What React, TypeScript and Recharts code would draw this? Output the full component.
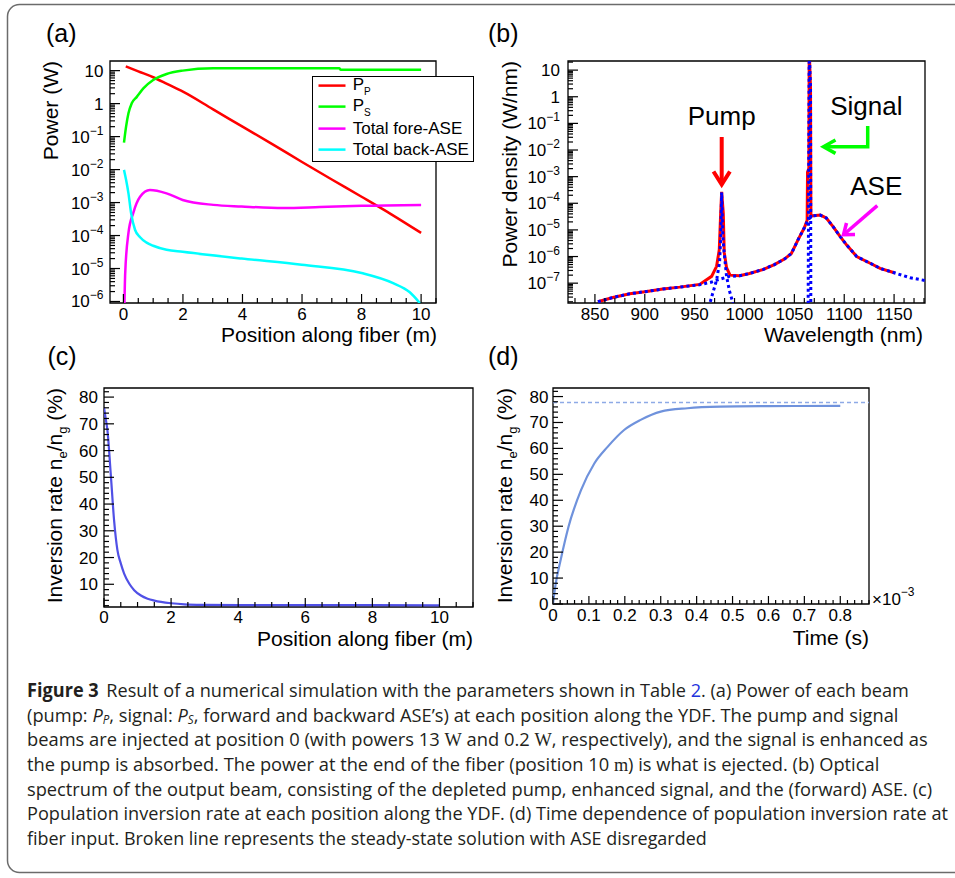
import React from "react";
import { LineChart, Line, XAxis, YAxis, ReferenceArea, ReferenceLine, Legend, Label } from "recharts";

// ---- (a) power of each beam along the fibre (m -> W)
const pumpPos = [0.08, 0.5, 1, 1.5, 2, 3, 4, 5, 6, 7, 8, 9, 10];
const pumpPower = [13.5, 9.5, 6.3, 3.8, 2.3, 0.68, 0.2, 0.059, 0.017, 0.005, 0.0015, 0.00044, 0.00012];
const signalPos = [0.02, 0.09, 0.17, 0.28, 0.45, 0.67, 1.0, 1.45, 1.99, 3.02, 7.25, 7.3, 10];
const signalPower = [0.066, 0.2, 0.51, 1.02, 1.6, 2.9, 5.2, 7.9, 10, 11.8, 11.8, 10.6, 10.6];
const foreAsePos = [0.03, 0.06, 0.17, 0.33, 0.56, 0.89, 1.45, 1.99, 3.02, 3.97, 5.37, 6.6, 8.0, 10];
const foreAsePower = [5e-7, 7e-6, 1.2e-4, 4.8e-4, 1.5e-3, 2.4e-3, 1.9e-3, 1.2e-3, 8.5e-4, 7.6e-4, 6.8e-4, 7.3e-4, 8.0e-4, 8.5e-4];
const backAsePos = [0.02, 0.09, 0.17, 0.26, 0.39, 0.56, 0.78, 1.0, 1.45, 1.99, 3.97, 5.99, 8.0, 9.06, 9.62, 10];
const backAsePower = [9.8e-3, 4.9e-3, 1.9e-3, 4.7e-4, 1.5e-4, 8.9e-5, 6.1e-5, 4.9e-5, 3.7e-5, 3.2e-5, 2.0e-5, 1.3e-5, 7.3e-6, 3.6e-6, 1.9e-6, 8e-7];
const powerNames = ["P_P", "P_S", "Total fore-ASE", "Total back-ASE"];

// ---- (b) output spectrum (nm -> W/nm)
const totalWl = [853, 868, 885, 902, 918, 935, 955, 967, 972, 974.7, 976.1, 977.1, 978.7, 979.7, 982, 985.5, 995, 1005, 1019, 1030, 1040, 1047, 1054, 1060, 1062.8, 1063.2, 1064.5, 1064.9, 1066.2, 1066.6, 1069, 1076, 1082, 1089, 1096, 1102.5, 1112.5, 1126, 1136, 1151];
const totalDensity = [2e-8, 2.9e-8, 4e-8, 4.9e-8, 6e-8, 7.1e-8, 9e-8, 1.8e-7, 4.3e-7, 1.8e-6, 4.3e-5, 2.7e-4, 4.3e-5, 1.4e-6, 3.8e-7, 2e-7, 1.9e-7, 2.3e-7, 3.3e-7, 5e-7, 8e-7, 1.3e-6, 4.5e-6, 1.2e-5, 2.3e-5, 1.5e-3, 2e-3, 60, 2.2, 3.3e-5, 3.4e-5, 3.6e-5, 2.8e-5, 1.3e-5, 5.6e-6, 2.7e-6, 1e-6, 5.6e-7, 3.6e-7, 2.4e-7];
const aseWl = [853, 868, 885, 902, 918, 935, 955, 967, 975, 985, 995, 1005, 1019, 1030, 1040, 1047, 1054, 1060, 1064, 1069, 1076, 1082, 1089, 1096, 1102.5, 1112.5, 1126, 1136, 1151, 1166, 1181];
const aseDensity = [2e-8, 2.9e-8, 4e-8, 4.9e-8, 6e-8, 7.1e-8, 8.7e-8, 1.1e-7, 1.4e-7, 1.8e-7, 1.9e-7, 2.3e-7, 3.3e-7, 5e-7, 8e-7, 1.3e-6, 4.5e-6, 1.2e-5, 2.5e-5, 3.4e-5, 3.6e-5, 2.8e-5, 1.3e-5, 5.6e-6, 2.7e-6, 1e-6, 5.6e-7, 3.6e-7, 2.4e-7, 1.6e-7, 1.26e-7];
const pumpWl = [964, 968, 972, 975, 976.2, 977.1, 978.2, 979.5, 982, 985, 989];
const pumpDensity = [1.2e-8, 4e-8, 1.3e-7, 6e-7, 6e-6, 2.6e-4, 6e-6, 1.5e-6, 1.8e-7, 5e-8, 1.5e-8];
const signalWl = [1063.8, 1064.9, 1066.2, 1066.5];
const signalDensity = [1e-8, 60, 2.2, 1e-8];

// ---- (c) inversion along the fibre (m -> %)
const fiberPos = [0, 0.05, 0.1, 0.2, 0.3, 0.4, 0.5, 0.6, 0.75, 0.9, 1.1, 1.3, 1.5, 1.7, 2.0, 2.4, 3, 4, 6, 8, 10];
const inversionAlongFiber = [76, 72, 67.8, 51.5, 34, 22.8, 17.8, 14, 10.3, 7.8, 5.8, 4.6, 3.9, 3.4, 2.9, 2.5, 2.3, 2.2, 2.2, 2.2, 2.1];

// ---- (d) inversion at fibre input vs time (x1e-3 s -> %)
const timeMs = [0, 0.006, 0.023, 0.043, 0.078, 0.115, 0.152, 0.198, 0.244, 0.3, 0.374, 0.466, 0.6, 0.8];
const inversionVsTime = [0, 6.5, 18, 29.7, 43.9, 54.2, 60.6, 67.1, 71, 74.2, 75.5, 76.1, 76.3, 76.4];
const steadyInversion = 77.7;

// major tick labels
const aXMajor = [0, 2, 4, 6, 8, 10];
const aYMajor = [1e-6, 1e-5, 1e-4, 1e-3, 1e-2, 1e-1, 1, 10];
const bXMajor = [850, 900, 950, 1000, 1050, 1100, 1150];
const bYMajor = [1e-7, 1e-6, 1e-5, 1e-4, 1e-3, 1e-2, 1e-1, 1, 10];
const cXMajor = [0, 2, 4, 6, 8, 10];
const cYMajor = [10, 20, 30, 40, 50, 60, 70, 80];
const dXMajor = [0, 0.1, 0.2, 0.3, 0.4, 0.5, 0.6, 0.7, 0.8];
const dYMajor = [0, 10, 20, 30, 40, 50, 60, 70, 80];

const FONT = "'Liberation Sans', Arial, Helvetica, sans-serif";
const CAPFONT = "'Open Sans', 'Noto Sans', sans-serif";
const SERIF = "'Liberation Serif', 'DejaVu Serif', serif";

type Rect = { L: number; T: number; R: number; B: number };
const PA: Rect = { L: 110, T: 61, R: 436, B: 303 };
const PB: Rect = { L: 568, T: 61, R: 925, B: 303 };
const PC: Rect = { L: 104, T: 388, R: 473, B: 607 };
const PD: Rect = { L: 553, T: 388, R: 869, B: 604 };

const aXDomain: [number, number] = [-0.45, 10.5];
const aYDomain: [number, number] = [0.9e-6, 19.6];
const bXDomain: [number, number] = [823, 1181];
const bYDomain: [number, number] = [1.8e-8, 22];
const cXDomain: [number, number] = [0, 11];
const cYDomain: [number, number] = [1.5, 83.4];
const dXDomain: [number, number] = [0, 0.88];
const dYDomain: [number, number] = [0, 83.3];

const PAD = { left: 80, top: 30, right: 70, bottom: 50 };
const Y_W = 70;
const X_H = 40;
const margin = { top: PAD.top, right: PAD.right, bottom: PAD.bottom - X_H, left: PAD.left - Y_W };

function box(p: Rect) {
  return {
    left: p.L - PAD.left,
    top: p.T - PAD.top,
    width: p.R - p.L + PAD.left + PAD.right,
    height: p.B - p.T + PAD.top + PAD.bottom,
  };
}

const pts = (xs: number[], ys: number[]) => xs.map((x, i) => ({ x, y: ys[i] }));

const steps = (a: number, b: number, step: number) => {
  const out: number[] = [];
  for (let i = 0; a + i * step <= b + step * 1e-6; i++) out.push(+(a + i * step).toFixed(6));
  return out;
};
const logSteps = (lo: number, hi: number, dom: [number, number]) => {
  const out: number[] = [];
  for (let e = lo; e <= hi; e++)
    for (let k = 1; k <= 9; k++) {
      const v = +(k * Math.pow(10, e)).toPrecision(6);
      if (v >= dom[0] && v <= dom[1]) out.push(v);
    }
  return out;
};

const isIn = (list: number[], v: number) => list.some((m) => Math.abs(m - v) <= Math.abs(m) * 1e-6 + 1e-9);

const logFmt = (v: number): React.ReactNode => {
  const e = Math.round(Math.log10(v));
  if (e === 1) return "10";
  if (e === 0) return "1";
  return (
    <>
      <tspan>10</tspan>
      <tspan dy={-8} fontSize={12}>{"\u2212" + Math.abs(e)}</tspan>
    </>
  );
};

type TickCfg = { side: "left" | "bottom"; majors: number[]; fmt: (v: number) => React.ReactNode; majorLen: number; minorLen: number; gap: number };

function axisTick(cfg: TickCfg) {
  return function Tick(props: any) {
    const { x, y, payload } = props;
    const v = Number(payload.value);
    const major = isIn(cfg.majors, v);
    const len = major ? cfg.majorLen : cfg.minorLen;
    if (cfg.side === "left") {
      return (
        <g>
          <line x1={x} y1={y} x2={x + len} y2={y} stroke="#000" strokeWidth={1.2} />
          {major && (
            <text x={x - cfg.gap} y={y + 6} textAnchor="end" fontSize={17} fontFamily={FONT} fill="#000">
              {cfg.fmt(v)}
            </text>
          )}
        </g>
      );
    }
    return (
      <g>
        <line x1={x} y1={y} x2={x} y2={y - len} stroke="#000" strokeWidth={1.2} />
        {major && (
          <text x={x} y={y + cfg.gap} textAnchor="middle" fontSize={17} fontFamily={FONT} fill="#000">
            {cfg.fmt(v)}
          </text>
        )}
      </g>
    );
  };
}

const yTitle = (content: React.ReactNode, fromPlot: number) => (props: any) => {
  const vb = props.viewBox || {};
  const x = vb.x + vb.width - fromPlot;
  const y = vb.y;
  return (
    <text x={x} y={y} transform={`rotate(-90 ${x} ${y})`} textAnchor="end" fontSize={21} fontFamily={FONT} fill="#000">
      {content}
    </text>
  );
};

const xTitle = (content: React.ReactNode, dxEnd: number, below: number) => (props: any) => {
  const vb = props.viewBox || {};
  return (
    <text x={vb.x + vb.width + dxEnd} y={vb.y + below} textAnchor="end" fontSize={21} fontFamily={FONT} fill="#000">
      {content}
    </text>
  );
};

const inversionTitle = (
  <>
    <tspan>Inversion rate n</tspan>
    <tspan fontSize={13} dy={5}>e</tspan>
    <tspan dy={-5}>/n</tspan>
    <tspan fontSize={13} dy={5}>g</tspan>
    <tspan dy={-5}> (%)</tspan>
  </>
);

const frame = (xd: [number, number], yd: [number, number]) => (
  <ReferenceArea x1={xd[0]} x2={xd[1]} y1={yd[0]} y2={yd[1]} fill="none" stroke="#000" strokeWidth={1.3} ifOverflow="visible" />
);

function PowerLegend(props: any) {
  const items = [...(props.payload || [])].sort(
    (a: any, b: any) => powerNames.indexOf(String(a.value)) - powerNames.indexOf(String(b.value))
  );
  return (
    <div style={{ position: "relative", width: 162, height: 86, border: "1.3px solid #000", background: "#fff", boxSizing: "border-box", fontFamily: FONT, fontSize: 17, color: "#000" }}>
      {items.map((it: any, i: number) => {
        const [main, sub] = String(it.value).split("_");
        return (
          <div key={String(it.value)} style={{ position: "absolute", left: 0, top: -1.5 + i * 21.2, height: 21.2, display: "flex", alignItems: "center" }}>
            <svg width={40} height={21} style={{ flex: "none" }}>
              <line x1={5.5} x2={32.5} y1={10.6} y2={10.6} stroke={it.color} strokeWidth={2.5} />
            </svg>
            <span style={{ whiteSpace: "nowrap", lineHeight: "17px" }}>
              {main}
              {sub && <span style={{ fontSize: 10, position: "relative", top: 5 }}>{sub}</span>}
            </span>
          </div>
        );
      })}
    </div>
  );
}

function PowerPanel() {
  const b = box(PA);
  const colors = ["#ff0000", "#00ff00", "#ff00ff", "#00ffff"];
  const series = [pts(pumpPos, pumpPower), pts(signalPos, signalPower), pts(foreAsePos, foreAsePower), pts(backAsePos, backAsePower)];
  return (
    <div style={{ position: "absolute", left: b.left, top: b.top }}>
      <LineChart width={b.width} height={b.height} margin={margin}>
        <XAxis type="number" dataKey="x" domain={aXDomain} allowDataOverflow ticks={steps(0, 10.5, 0.5)} interval={0} height={X_H} tickSize={0} tickMargin={0} axisLine={false} tickLine={false}
          tick={axisTick({ side: "bottom", majors: aXMajor, fmt: (v) => String(v), majorLen: 9, minorLen: 5, gap: 16.5 })}>
          <Label content={xTitle("Position along fiber (m)", 1, 39)} />
        </XAxis>
        <YAxis type="number" scale="log" domain={aYDomain} allowDataOverflow ticks={logSteps(-6, 1, aYDomain)} interval={0} width={Y_W} tickSize={0} tickMargin={0} axisLine={false} tickLine={false}
          tick={axisTick({ side: "left", majors: aYMajor, fmt: logFmt, majorLen: 10, minorLen: 5, gap: 6.5 })}>
          <Label content={yTitle("Power (W)", 51.6)} />
        </YAxis>
        {frame(aXDomain, aYDomain)}
        {series.map((d, i) => (
          <Line key={powerNames[i]} data={d} dataKey="y" name={powerNames[i]} type="monotone" stroke={colors[i]} strokeWidth={2.5} dot={false} isAnimationActive={false} />
        ))}
        <Legend content={PowerLegend} layout="vertical" align="center" verticalAlign="middle" wrapperStyle={{ left: 311.7 - b.left, top: 75.7 - b.top, width: 162, height: 86 }} />
      </LineChart>
    </div>
  );
}

function SpectrumPanel() {
  const b = box(PB);
  return (
    <div style={{ position: "absolute", left: b.left, top: b.top }}>
      <LineChart width={b.width} height={b.height} margin={margin}>
        <XAxis type="number" dataKey="x" domain={bXDomain} allowDataOverflow ticks={steps(830, 1180, 10)} interval={0} height={X_H} tickSize={0} tickMargin={0} axisLine={false} tickLine={false}
          tick={axisTick({ side: "bottom", majors: bXMajor, fmt: (v) => String(v), majorLen: 9, minorLen: 5, gap: 16.5 })}>
          <Label content={xTitle("Wavelength (nm)", -2, 39)} />
        </XAxis>
        <YAxis type="number" scale="log" domain={bYDomain} allowDataOverflow ticks={logSteps(-8, 1, bYDomain)} interval={0} width={Y_W} tickSize={0} tickMargin={0} axisLine={false} tickLine={false}
          tick={axisTick({ side: "left", majors: bYMajor, fmt: logFmt, majorLen: 10, minorLen: 5, gap: 8 })}>
          <Label content={yTitle("Power density (W/nm)", 51.2)} />
        </YAxis>
        {frame(bXDomain, bYDomain)}
        <Line data={pts(totalWl, totalDensity)} dataKey="y" name="total" type="linear" stroke="#ff0000" strokeWidth={3} dot={false} isAnimationActive={false} />
        <Line data={pts(aseWl, aseDensity)} dataKey="y" name="ASE" type="linear" stroke="#0000ff" strokeWidth={3} strokeDasharray="3 3" dot={false} isAnimationActive={false} />
        <Line data={pts(pumpWl, pumpDensity)} dataKey="y" name="pump" type="linear" stroke="#0000ff" strokeWidth={3} strokeDasharray="3 3" dot={false} isAnimationActive={false} />
        <Line data={pts(signalWl, signalDensity)} dataKey="y" name="signal" type="linear" stroke="#0000ff" strokeWidth={3} strokeDasharray="3 3" dot={false} isAnimationActive={false} />
      </LineChart>
    </div>
  );
}

function FiberInversionPanel() {
  const b = box(PC);
  return (
    <div style={{ position: "absolute", left: b.left, top: b.top }}>
      <LineChart width={b.width} height={b.height} margin={margin}>
        <XAxis type="number" dataKey="x" domain={cXDomain} allowDataOverflow ticks={steps(0, 11, 0.5)} interval={0} height={X_H} tickSize={0} tickMargin={0} axisLine={false} tickLine={false}
          tick={axisTick({ side: "bottom", majors: cXMajor, fmt: (v) => String(v), majorLen: 9, minorLen: 5, gap: 15.5 })}>
          <Label content={xTitle("Position along fiber (m)", 0, 38.5)} />
        </XAxis>
        <YAxis type="number" domain={cYDomain} allowDataOverflow ticks={steps(2, 82, 2)} interval={0} width={Y_W} tickSize={0} tickMargin={0} axisLine={false} tickLine={false}
          tick={axisTick({ side: "left", majors: cYMajor, fmt: (v) => String(v), majorLen: 10, minorLen: 5, gap: 6 })}>
          <Label content={yTitle(inversionTitle, 42)} />
        </YAxis>
        {frame(cXDomain, cYDomain)}
        <Line data={pts(fiberPos, inversionAlongFiber)} dataKey="y" name="inversion" type="monotone" stroke="#5050e6" strokeWidth={2.2} dot={false} isAnimationActive={false} />
      </LineChart>
    </div>
  );
}

function TimeInversionPanel() {
  const b = box(PD);
  const multiplier = (props: any) => {
    const vb = props.viewBox || {};
    const x = vb.x + vb.width + 3;
    const y = vb.y + 1;
    return (
      <text x={x} y={y} fontSize={17} fontFamily={FONT} fill="#000">
        <tspan>{"\u00d710"}</tspan>
        <tspan dy={-9} fontSize={12}>{"\u22123"}</tspan>
      </text>
    );
  };
  return (
    <div style={{ position: "absolute", left: b.left, top: b.top }}>
      <LineChart width={b.width} height={b.height} margin={margin}>
        <XAxis type="number" dataKey="x" domain={dXDomain} allowDataOverflow ticks={steps(0, 0.88, 0.02)} interval={0} height={X_H} tickSize={0} tickMargin={0} axisLine={false} tickLine={false}
          tick={axisTick({ side: "bottom", majors: dXMajor, fmt: (v) => (v === 0 ? "0" : v.toFixed(1)), majorLen: 8, minorLen: 4, gap: 17 })}>
          <Label content={xTitle("Time (s)", 0, 40.5)} />
          <Label content={multiplier} />
        </XAxis>
        <YAxis type="number" domain={dYDomain} allowDataOverflow ticks={steps(0, 82, 2)} interval={0} width={Y_W} tickSize={0} tickMargin={0} axisLine={false} tickLine={false}
          tick={axisTick({ side: "left", majors: dYMajor, fmt: (v) => String(v), majorLen: 10, minorLen: 5, gap: 4.5 })}>
          <Label content={yTitle(inversionTitle, 41)} />
        </YAxis>
        {frame(dXDomain, dYDomain)}
        <ReferenceLine y={steadyInversion} stroke="#8eaae6" strokeWidth={1.6} strokeDasharray="4 3" ifOverflow="visible" />
        <Line data={pts(timeMs, inversionVsTime)} dataKey="y" name="inversion" type="monotone" stroke="#6f92dc" strokeWidth={2.2} dot={false} isAnimationActive={false} />
      </LineChart>
    </div>
  );
}

// caption: each line squeezed to the width it has in the figure
const CAP = { x: 27, baseline0: 699, dy: 24.6, size: 19 };

function FitLine({ width, baseline, children }: { width: number; baseline: number; children: React.ReactNode }) {
  const ref = React.useRef<HTMLSpanElement>(null);
  const [k, setK] = React.useState(1);
  React.useLayoutEffect(() => {
    if (ref.current && ref.current.offsetWidth > 0) setK(width / ref.current.offsetWidth);
  }, [width]);
  return (
    <div style={{ position: "absolute", left: CAP.x, top: baseline - 17.8, height: CAP.size, lineHeight: `${CAP.size}px`, whiteSpace: "nowrap" }}>
      <span ref={ref} style={{ display: "inline-block", transform: `scaleX(${k})`, transformOrigin: "0 50%" }}>
        {children}
      </span>
    </div>
  );
}

const Sub = ({ c }: { c: string }) => (
  <i style={{ fontSize: 12, position: "relative", top: 2, lineHeight: 0 }}>{c}</i>
);

const captionLines: { len: number; body: React.ReactNode }[] = [
  {
    len: 882,
    body: (
      <>
        <b>Figure 3</b>
        <span style={{ marginLeft: 8 }}>{"Result of a numerical simulation with the parameters shown in Table "}</span>
        <span style={{ color: "#2233dd" }}>2</span>
        {". (a) Power of each beam"}
      </>
    ),
  },
  {
    len: 871,
    body: (
      <>
        {"(pump: "}
        <i>P</i>
        <Sub c="P" />
        {", signal: "}
        <i>P</i>
        <Sub c="S" />
        {", forward and backward ASE\u2019s) at each position along the YDF. The pump and signal"}
      </>
    ),
  },
  {
    len: 901,
    body: (
      <>
        {"beams are injected at position 0 (with powers 13 "}
        <span style={{ fontFamily: SERIF }}>W</span>
        {" and 0.2 "}
        <span style={{ fontFamily: SERIF }}>W</span>
        {", respectively), and the signal is enhanced as"}
      </>
    ),
  },
  {
    len: 852,
    body: (
      <>
        {"the pump is absorbed. The power at the end of the fiber (position 10 "}
        <span style={{ fontFamily: SERIF }}>m</span>
        {") is what is ejected. (b) Optical"}
      </>
    ),
  },
  { len: 905, body: "spectrum of the output beam, consisting of the depleted pump, enhanced signal, and the (forward) ASE. (c)" },
  { len: 921, body: "Population inversion rate at each position along the YDF. (d) Time dependence of population inversion rate at" },
  { len: 680, body: "fiber input. Broken line represents the steady-state solution with ASE disregarded" },
];

function Caption() {
  return (
    <div style={{ position: "absolute", left: 0, top: 0, fontFamily: CAPFONT, fontSize: CAP.size, color: "#231f20" }}>
      {captionLines.map((ln, i) => (
        <FitLine key={i} width={ln.len} baseline={CAP.baseline0 + i * CAP.dy}>
          {ln.body}
        </FitLine>
      ))}
    </div>
  );
}

function Overlay() {
  return (
    <svg width={955} height={878} style={{ position: "absolute", left: 0, top: 0, pointerEvents: "none" }}>
      <rect x={7.5} y={4.5} width={965} height={868} rx={12} fill="none" stroke="#6b6b6b" strokeWidth={1.5} />
      <g fontFamily={FONT} fontSize={25} fill="#000">
        <text x={46} y={41.5}>(a)</text>
        <text x={488} y={41.5}>(b)</text>
        <text x={47.5} y={365}>(c)</text>
        <text x={488} y={365}>(d)</text>
      </g>
      <g fontFamily={FONT} fontSize={26} fill="#000" textAnchor="middle">
        <text x={721.7} y={125}>Pump</text>
        <text x={866.3} y={115}>Signal</text>
        <text x={876.3} y={195}>ASE</text>
      </g>
      <g fill="none" strokeLinejoin="miter">
        <line x1={721.7} y1={137} x2={721.7} y2={182} stroke="#ff0000" strokeWidth={4} />
        <polyline points="713.5,171.5 721.7,184.5 729.9,171.5" stroke="#ff0000" strokeWidth={4} />
        <polyline points="867.7,126 867.7,146.7 825,146.7" stroke="#00ff00" strokeWidth={3.5} />
        <polyline points="835.5,140 823.5,146.7 835.5,153.4" stroke="#00ff00" strokeWidth={3.5} />
        <line x1={877.3} y1={205.7} x2={845} y2={233.5} stroke="#ff00ff" strokeWidth={3.5} />
        <polyline points="846.5,223 843.5,234.8 855,234.5" stroke="#ff00ff" strokeWidth={3.5} />
      </g>
    </svg>
  );
}

export default function App() {
  return (
    <div style={{ position: "absolute", left: 0, top: 0, width: 955, height: 878, overflow: "hidden", background: "#fff", fontFamily: FONT }}>
      <PowerPanel />
      <SpectrumPanel />
      <FiberInversionPanel />
      <TimeInversionPanel />
      <Overlay />
      <Caption />
    </div>
  );
}
